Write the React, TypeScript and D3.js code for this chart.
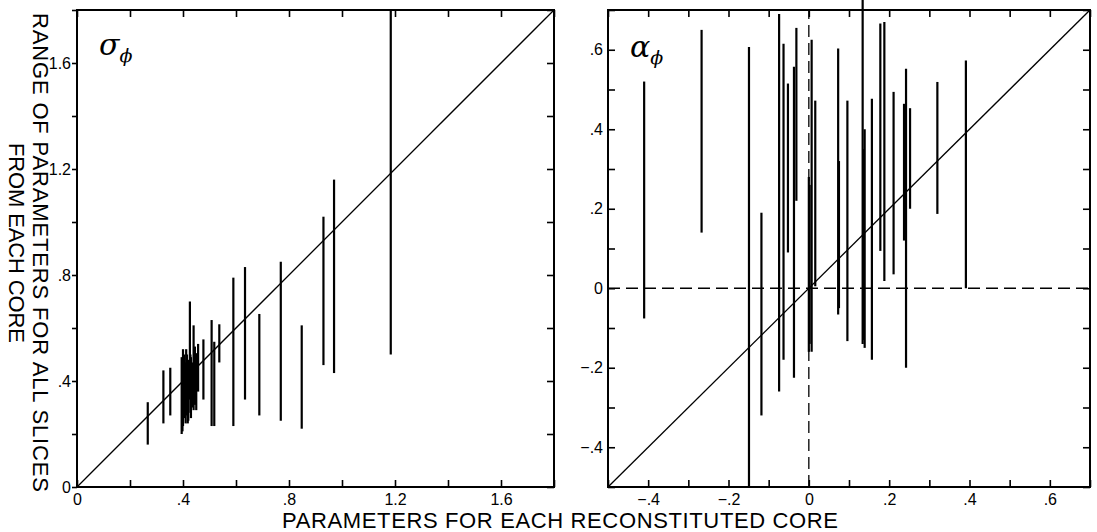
import React, { useEffect, useRef } from 'react';
import * as d3 from 'd3';

// sigma_phi panel: core value, lowest and highest slice value
const sigmaCore = [0.267, 0.326, 0.352, 0.395, 0.398, 0.40, 0.405, 0.41, 0.412, 0.415, 0.418, 0.42, 0.426, 0.428, 0.43, 0.435, 0.44, 0.445, 0.45, 0.457, 0.477, 0.508, 0.518, 0.537, 0.59, 0.634, 0.688, 0.769, 0.848, 0.93, 0.97, 1.184];
const sigmaLo = [0.16, 0.24, 0.27, 0.20, 0.21, 0.23, 0.26, 0.24, 0.28, 0.27, 0.24, 0.25, 0.33, 0.28, 0.26, 0.30, 0.29, 0.31, 0.29, 0.36, 0.33, 0.23, 0.23, 0.47, 0.23, 0.33, 0.27, 0.25, 0.22, 0.46, 0.43, 0.50];
const sigmaHi = [0.32, 0.44, 0.45, 0.49, 0.45, 0.52, 0.50, 0.47, 0.52, 0.50, 0.46, 0.48, 0.70, 0.50, 0.49, 0.47, 0.61, 0.53, 0.505, 0.54, 0.557, 0.63, 0.548, 0.614, 0.79, 0.83, 0.653, 0.85, 0.61, 1.02, 1.16, 1.80];

// alpha_phi panel
const alphaCore = [-0.41, -0.267, -0.149, -0.118, -0.074, -0.063, -0.052, -0.037, -0.031, 0.0, 0.002, 0.007, 0.016, 0.073, 0.075, 0.096, 0.134, 0.137, 0.139, 0.157, 0.178, 0.188, 0.211, 0.237, 0.242, 0.252, 0.32, 0.391];
const alphaLo = [-0.076, 0.14, -0.5, -0.32, -0.26, -0.18, 0.09, -0.225, 0.22, -0.16, -0.14, -0.16, 0.005, -0.066, -0.05, -0.133, -0.14, -0.13, -0.15, -0.18, 0.094, 0.018, 0.035, 0.12, -0.2, 0.2, 0.187, 0.0];
const alphaHi = [0.52, 0.65, 0.607, 0.19, 0.69, 0.615, 0.515, 0.557, 0.655, 0.28, 0.26, 0.625, 0.472, 0.603, 0.32, 0.472, 0.73, 0.35, 0.40, 0.477, 0.666, 0.67, 0.494, 0.464, 0.552, 0.453, 0.519, 0.573];

const sigmaTicks = [0, 0.2, 0.4, 0.6, 0.8, 1.0, 1.2, 1.4, 1.6, 1.8];
const sigmaLabels = [0, 0.4, 0.8, 1.2, 1.6];
const alphaTicks = [-0.5, -0.4, -0.3, -0.2, -0.1, 0, 0.1, 0.2, 0.3, 0.4, 0.5, 0.6, 0.7];
const alphaLabels = [-0.4, -0.2, 0, 0.2, 0.4, 0.6];

const yTitle1 = 'RANGE OF PARAMETERS FOR ALL SLICES';
const yTitle2 = 'FROM EACH CORE';
const xTitle = 'PARAMETERS FOR EACH RECONSTITUTED CORE';

const FONT = '"Liberation Sans", Arial, sans-serif';

const fmt = (d: number) => {
  if (Math.abs(d) < 1e-9) return '0';
  return d3.format('.1f')(d).replace('0.', '.');
};

export default function App() {
  const ref = useRef<SVGSVGElement>(null);

  useEffect(() => {
    const svg = d3.select(ref.current);
    svg.selectAll('*').remove();

    const drawPanel = (opts: any) => {
      const { x, y, ticks, labels, core, lo, hi, leftOut } = opts;
      const g = svg.append('g');
      const [x0, x1] = x.range();
      const [y0, y1] = y.range();
      const isLabel = (d: number) => labels.some((l: number) => Math.abs(l - d) < 1e-9);
      const f = (d: number) => (isLabel(d) ? fmt(d) : '');

      const styleAxis = (sel: any) => {
        sel.select('.domain').remove();
        sel.selectAll('line').attr('stroke', '#000').attr('stroke-width', 1.6);
        sel.selectAll('text').attr('fill', '#000').style('font-family', FONT).style('font-size', '16px');
      };

      g.append('g').attr('transform', `translate(0,${y0})`)
        .call(d3.axisBottom(x).tickValues(ticks).tickFormat(f as any).tickSize(-7).tickPadding(7))
        .call(styleAxis);
      g.append('g').attr('transform', `translate(0,${y1})`)
        .call(d3.axisTop(x).tickValues(ticks).tickFormat(() => '').tickSize(-7))
        .call(styleAxis);
      g.append('g').attr('transform', `translate(${x0},0)`)
        .call(d3.axisLeft(y).tickValues(ticks).tickFormat(f as any)
          .tickSize(leftOut ? 5 : -7).tickPadding(leftOut ? 1 : 5))
        .call(styleAxis);
      g.append('g').attr('transform', `translate(${x1},0)`)
        .call(d3.axisRight(y).tickValues(ticks).tickFormat(() => '').tickSize(-7))
        .call(styleAxis);

      g.append('rect')
        .attr('x', x0).attr('y', y1).attr('width', x1 - x0).attr('height', y0 - y1)
        .attr('fill', 'none').attr('stroke', '#000').attr('stroke-width', 2);

      const [dlo, dhi] = x.domain();
      if (opts.dashed) {
        g.append('line')
          .attr('x1', x(dlo)).attr('x2', x(dhi)).attr('y1', y(0)).attr('y2', y(0))
          .attr('stroke', '#000').attr('stroke-width', 1.3).attr('stroke-dasharray', '12,6');
        g.append('line')
          .attr('x1', x(0)).attr('x2', x(0)).attr('y1', y(dlo)).attr('y2', y(dhi))
          .attr('stroke', '#000').attr('stroke-width', 1.3).attr('stroke-dasharray', '12,6');
      }

      const diag = d3.line<number>().x((d) => x(d)).y((d) => y(d));
      g.append('path').attr('d', diag([dlo, dhi]))
        .attr('fill', 'none').attr('stroke', '#000').attr('stroke-width', 1.3);

      g.append('g').selectAll('line').data(core).join('line')
        .attr('x1', (d: number) => x(d)).attr('x2', (d: number) => x(d))
        .attr('y1', (_: number, i: number) => y(lo[i]))
        .attr('y2', (_: number, i: number) => y(hi[i]))
        .attr('stroke', '#000').attr('stroke-width', 2.2);

      const lab = g.append('text')
        .attr('x', opts.labelX).attr('y', opts.labelY)
        .style('font-family', '"DejaVu Serif", serif').attr('fill', '#000');
      lab.append('tspan').text(opts.sym).style('font-size', '30px').style('font-style', 'italic');
      lab.append('tspan').text('\u03d5').attr('dy', 7).style('font-size', '19px').style('font-style', 'italic');
    };

    drawPanel({
      x: d3.scaleLinear().domain([0, 1.8]).range([77, 554]),
      y: d3.scaleLinear().domain([0, 1.8]).range([487, 10]),
      ticks: sigmaTicks, labels: sigmaLabels,
      core: sigmaCore, lo: sigmaLo, hi: sigmaHi,
      leftOut: true, dashed: false, sym: '\u03c3', labelX: 99, labelY: 55,
    });

    drawPanel({
      x: d3.scaleLinear().domain([-0.5, 0.7]).range([608, 1090]),
      y: d3.scaleLinear().domain([-0.5, 0.7]).range([487, 10]),
      ticks: alphaTicks, labels: alphaLabels,
      core: alphaCore, lo: alphaLo, hi: alphaHi,
      leftOut: false, dashed: true, sym: '\u03b1', labelX: 630, labelY: 57,
    });

    const titles = svg.append('g').style('font-family', FONT).attr('fill', '#000');
    titles.append('text')
      .attr('transform', 'translate(33,13) rotate(90)')
      .attr('textLength', 479).attr('lengthAdjust', 'spacing')
      .style('font-size', '22px').text(yTitle1);
    titles.append('text')
      .attr('transform', 'translate(9,143) rotate(90)')
      .attr('textLength', 200).attr('lengthAdjust', 'spacing')
      .style('font-size', '22px').text(yTitle2);
    titles.append('text')
      .attr('x', 282).attr('y', 528)
      .attr('textLength', 556).attr('lengthAdjust', 'spacing')
      .style('font-size', '22px').text(xTitle);
  }, []);

  return (
    <svg ref={ref} width={1097} height={532}
      style={{ position: 'absolute', left: 0, top: 0, background: '#fff', display: 'block' }} />
  );
}
